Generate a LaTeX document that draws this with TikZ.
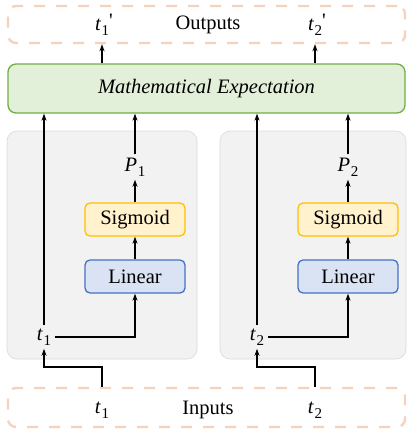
\documentclass[tikz,border=0pt]{standalone}
\usepackage{fontspec}
\setmainfont{Liberation Serif}
\usepackage{xcolor}
\usepackage{tikz}
\usetikzlibrary{arrows.meta, positioning}

\definecolor{mefill}{HTML}{E2EFD9}
\definecolor{meline}{HTML}{70AD47}
\definecolor{sigfill}{HTML}{FFF2CC}
\definecolor{sigline}{HTML}{FFC000}
\definecolor{linfill}{HTML}{DAE3F3}
\definecolor{linline}{HTML}{4472C4}
\definecolor{panelfill}{HTML}{F2F2F2}
\definecolor{panelline}{HTML}{D9D9D9}
\definecolor{ioline}{HTML}{F6D2BD}

\newcommand{\tv}[1]{\textit{t}\kern0.5pt\raisebox{-5pt}{\fontsize{15}{15}\selectfont #1}}
\newcommand{\pv}[1]{\textit{P}\kern0.5pt\raisebox{-5pt}{\fontsize{15}{15}\selectfont #1}}

\tikzset{
  iobox/.style={draw=ioline, line width=2.4pt, dash pattern=on 11pt off 11pt, rounded corners=8pt, minimum width=397pt},
  panel/.style={draw=panelline, fill=panelfill, line width=0.6pt, rounded corners=10pt},
  layer/.style={rounded corners=5pt, line width=1.3pt, minimum width=100pt, minimum height=33pt, inner sep=0pt},
  conn/.style={-{Stealth[length=7pt,width=5pt]}, line width=1.4pt},
}

\begin{document}
\begin{tikzpicture}[x=1pt, y=-1pt, font=\fontsize{20.5}{24}\selectfont]
\useasboundingbox (0,0) rectangle (407,436);

% Bloques de fondo
\draw[panel] (7,131) rectangle (197,359);
\draw[panel] (220,131) rectangle (406,359);

% Salidas
\node[iobox, minimum height=37pt] (outbox) at (206.5,24.5) {};
\node (t1o) at (104,25) {\tv{1}\raisebox{3pt}{\textquotesingle}};
\node (outlbl) at (208,25) {Outputs};
\node (t2o) at (317,25) {\tv{2}\raisebox{3pt}{\textquotesingle}};

% Esperanza
\node[draw=meline, fill=mefill, line width=1.3pt, rounded corners=8pt, minimum width=397pt, minimum height=49pt] (me) at (206.5,88.5) {\textit{Mathematical Expectation}};

% Rama 1
\node (p1) at (135,167) {\pv{1}};
\node[layer, draw=sigline, fill=sigfill] (sig1) at (135,219.5) {Sigmoid};
\node[layer, draw=linline, fill=linfill] (lin1) at (135,276.5) {Linear};
\node (t1m) at (44,337) {\tv{1}};

% Rama 2
\node (p2) at (348,167) {\pv{2}};
\node[layer, draw=sigline, fill=sigfill] (sig2) at (348,219.5) {Sigmoid};
\node[layer, draw=linline, fill=linfill] (lin2) at (348,276.5) {Linear};
\node (t2m) at (257,337) {\tv{2}};

% Entradas
\node[iobox, minimum height=39pt] (inbox) at (206.5,407.5) {};
\node (t1i) at (102,410) {\tv{1}};
\node (inlbl) at (208,410) {Inputs};
\node (t2i) at (315,410) {\tv{2}};

% Conexiones
\draw[conn] (t1i |- inbox.north) -- ++(0,-20) -| (t1m.south);
\draw[conn] (t2i |- inbox.north) -- ++(0,-20) -| (t2m.south);
\draw[conn] (t1m.east) -| (lin1.south);
\draw[conn] (t2m.east) -| (lin2.south);
\draw[conn] (lin1) -- (sig1);
\draw[conn] (lin2) -- (sig2);
\draw[conn] (sig1) -- (p1);
\draw[conn] (sig2) -- (p2);
\draw[conn] (t1m.north -| t1m.center) -- (t1m |- me.south);
\draw[conn] (t2m.north -| t2m.center) -- (t2m |- me.south);
\draw[conn] (p1.north) -- (p1 |- me.south);
\draw[conn] (p2.north) -- (p2 |- me.south);
\draw[conn] (me.north -| 102,0) -- (outbox.south -| 102,0);
\draw[conn] (me.north -| 315,0) -- (outbox.south -| 315,0);
\end{tikzpicture}
\end{document}
